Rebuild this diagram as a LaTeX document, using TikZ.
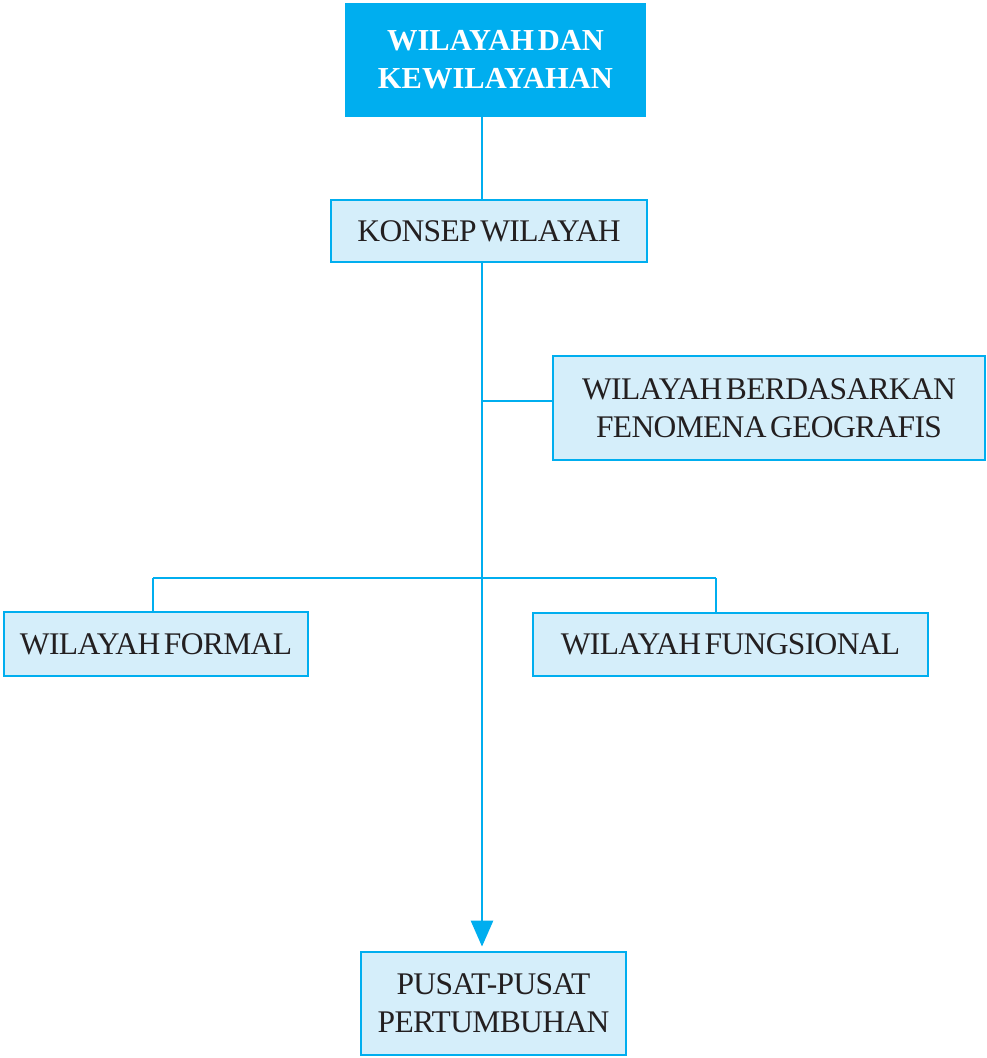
\documentclass[tikz,border=0pt]{standalone}
\usepackage{fontspec}
\setmainfont{Liberation Serif}[WordSpace=0.5]
\newfontfamily\labelfont{Liberation Serif}[WordSpace=0.5,LetterSpace=-2]
\usetikzlibrary{arrows.meta}
\definecolor{cyanline}{HTML}{00AEEF}
\definecolor{boxfill}{HTML}{D5EEFA}
\definecolor{ink}{HTML}{231F20}
\begin{document}
\begin{tikzpicture}[x=1pt,y=-1pt,
  lbox/.style={draw=cyanline,fill=boxfill,line width=2.8pt,inner sep=0pt,
    align=center,text=ink,font=\labelfont\fontsize{31.5}{38}\selectfont},
  tbox/.style={fill=cyanline,inner sep=0pt,align=center,text=white,
    font=\fontsize{30.5}{38}\selectfont\bfseries},
  link/.style={draw=cyanline,line width=2.8pt},
]
\useasboundingbox (0,0) rectangle (986,1058);

\node[tbox,minimum width=301pt,minimum height=114pt] (top) at (495.5,60) {WILAYAH DAN\\KEWILAYAHAN};
\node[lbox,minimum width=316pt,minimum height=62pt] (konsep) at (489,231) {KONSEP WILAYAH};
\node[lbox,minimum width=432pt,minimum height=104pt] (fen) at (769,408) {WILAYAH BERDASARKAN\\FENOMENA GEOGRAFIS};
\node[lbox,minimum width=304pt,minimum height=64pt] (formal) at (156,644) {WILAYAH FORMAL};
\node[lbox,minimum width=395pt,minimum height=63pt] (fungs) at (730.5,644.5) {WILAYAH FUNGSIONAL};
\node[lbox,minimum width=265pt,minimum height=103pt] (pusat) at (493.5,1003.5) {PUSAT-PUSAT\\PERTUMBUHAN};

% trunk position and branching points
\coordinate (trunk) at (482,0);
\coordinate (bfen) at (482,401);
\coordinate (bsplit) at (482,578);
\coordinate (bl) at (153,578);
\coordinate (br) at (716,578);

\draw[link] (top.south -| trunk) -- (konsep.north -| trunk);
\draw[link,-{Triangle[width=22pt,length=26pt]},shorten >=4pt] (konsep.south -| trunk) -- (pusat.north -| trunk);
\draw[link] (bfen) -- (bfen -| fen.west);
\draw[link] (bl) -- (br);
\draw[link] (bl) -- (bl |- formal.north);
\draw[link] (br) -- (br |- fungs.north);
\end{tikzpicture}
\end{document}
